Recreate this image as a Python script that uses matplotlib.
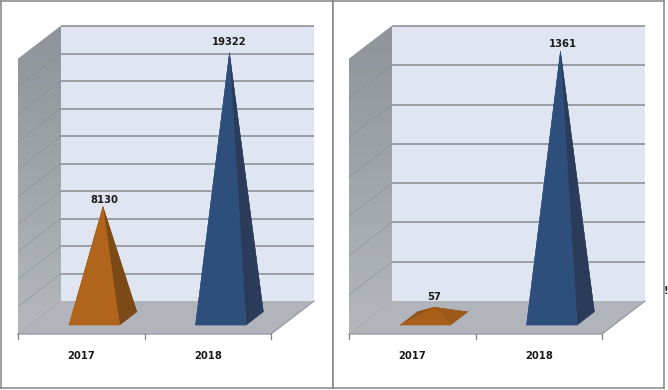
import numpy as np
import matplotlib
matplotlib.use('Agg')
import matplotlib.pyplot as plt
from matplotlib.patches import Polygon

years = ['2017', '2018']
left_values = [8130, 19322]
right_values = [57, 1361]
left_max, left_step = 20000, 2000
right_max, right_step = 1400, 200

W, H = 668, 390
PX_HEIGHT = 275        # wall height in pixels
PX_CAT = 126.5         # one category in pixels
PX_DX, PX_DY = 43, 33  # depth offset of the back wall

# front, right, left, back
orange_tall = ['#B0641C', '#7C4A16', '#8F5518', '#A05A1A']
orange_flat = ['#A95F1A', '#9C5A1A', '#8F5518', '#8A5218']
blue = ['#2E4F7C', '#2B3C5A', '#2E4F7C', '#2E4F7C']


def panel(box, x0, values, vmax, step, offsets, orange):
    # box is the frame in pixels, x0 the left end of the front edge
    bx0, by0, bx1, by1 = box
    ax = fig.add_axes([bx0 / W, 1 - by1 / H, (bx1 - bx0) / W, (by1 - by0) / H])
    per_px = vmax / PX_HEIGHT
    xlim = ((bx0 - x0) / PX_CAT - 0.5, (bx1 - x0) / PX_CAT - 0.5)
    ylim = ((334 - by1) * per_px, (334 - by0) * per_px)
    ax.set_xticks([])
    ax.set_yticks([])
    for s in ax.spines.values():
        s.set_color('#858585')
        s.set_linewidth(1.1)

    dx = PX_DX / PX_CAT
    dy = PX_DY * per_px
    xa, xb = -0.5, 1.5

    def pt(x, v, d):
        return (x + d * dx, v + d * dy)

    # back wall
    ax.add_patch(Polygon([pt(xa, 0, 1), pt(xb, 0, 1), pt(xb, vmax, 1), pt(xa, vmax, 1)],
                         fc='#E0E6F1', ec='none', zorder=1))
    # side wall, lighter towards the floor
    side = Polygon([pt(xa, 0, 0), pt(xa, 0, 1), pt(xa, vmax, 1), pt(xa, vmax, 0)],
                   fc='none', ec='none', zorder=2)
    ax.add_patch(side)
    grad = np.linspace(0, 1, 64).reshape(-1, 1)
    cmap = matplotlib.colors.LinearSegmentedColormap.from_list('w', ['#8E9499', '#B4B8BC'])
    im = ax.imshow(grad, cmap=cmap, aspect='auto', zorder=2, origin='upper',
                   extent=[xa, xa + dx, 0, vmax + dy])
    im.set_clip_path(side)
    ax.set_xlim(xlim)
    ax.set_ylim(ylim)
    # floor
    ax.add_patch(Polygon([pt(xa, 0, 0), pt(xb, 0, 0), pt(xb, 0, 1), pt(xa, 0, 1)],
                         fc='#B1B5BB', ec='none', zorder=3))

    # grid
    for v in np.arange(step, vmax + step, step):
        p, q, r = pt(xa, v, 0), pt(xa, v, 1), pt(xb, v, 1)
        ax.plot([p[0], q[0]], [p[1], q[1]], color='#868B90', lw=0.5, alpha=0.7, zorder=2.5)
        ax.plot([q[0], r[0]], [q[1], r[1]], color='#8F9398', lw=1.2, zorder=2.5,
                solid_capstyle='butt')
    # floor edges and ticks
    ax.plot(*zip(pt(xa, 0, 0), pt(xb, 0, 0), pt(xb, 0, 1)), color='#9A9DA1', lw=1.0, zorder=3.5)
    ax.plot(*zip(pt(xa, 0, 0), pt(xa, 0, 1)), color='#A3A7AC', lw=0.6, zorder=3.5)
    for t in [-0.5, 0.5, 1.5]:
        ax.plot([t, t], [0, -5 * per_px], color='#808080', lw=0.9, zorder=3.5)

    # pyramids
    hw = 0.2
    d0, d1 = 0.27, 0.67
    shift = 1.5 / PX_CAT
    for i, (val, off) in enumerate(zip(values, offsets)):
        cols = orange if i == 0 else blue
        c = i + shift
        fl, fr = pt(c - hw, 0, d0), pt(c + hw, 0, d0)
        bl, br = pt(c - hw, 0, d1), pt(c + hw, 0, d1)
        tip = pt(c, val, (d0 + d1) / 2)
        faces = [([bl, br, tip], cols[3]), ([fl, bl, tip], cols[2]),
                 ([fr, br, tip], cols[1]), ([fl, fr, tip], cols[0])]
        for f, col in faces:
            ax.add_patch(Polygon(f, fc=col, ec=col, lw=0.3, zorder=4))
        ax.annotate(str(val), xy=tip, xytext=(off[0] * 0.72, off[1] * 0.72),
                    textcoords='offset points', ha='center', va='center',
                    fontsize=7.2, fontweight='bold', color='#1A1A1A', zorder=5)
        ax.annotate(years[i], xy=(i, 0), xytext=(0, -22 * 0.72), textcoords='offset points',
                    ha='center', va='center', fontsize=7.2, fontweight='bold', color='#1A1A1A')
    return ax


fig = plt.figure(figsize=(W / 100, H / 100), dpi=100, facecolor='white')
panel((1, 1, 333, 388), 18, left_values, left_max, left_step, [(1, 7), (0, 11)], orange_tall)
panel((333, 1, 664, 388), 349, right_values, right_max, right_step, [(0, 10), (2, 7)], orange_flat)
# small mark at the right margin of the screenshot
fig.text(665.5 / W, 1 - 291 / H, '!', fontsize=7, fontweight='bold', color='#222222',
         ha='center', va='center')

fig.savefig('out.png', dpi=100)
